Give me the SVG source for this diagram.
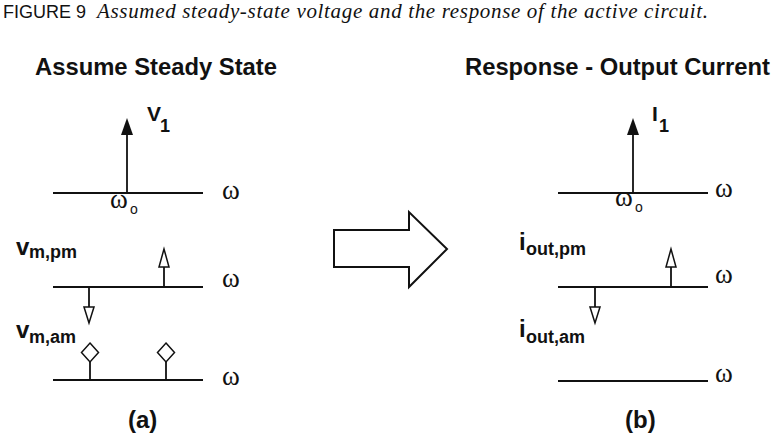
<svg xmlns="http://www.w3.org/2000/svg" width="781" height="448" viewBox="0 0 781 448">
<style>
.ax{stroke:#111;stroke-width:2;fill:none}
.st{stroke:#111;stroke-width:1.8;fill:none}
.open{fill:#fff;stroke:#111;stroke-width:1.5;stroke-linejoin:miter}
.solid{fill:#111;stroke:none}
.ttl{font-family:"Liberation Sans",Arial,sans-serif;font-weight:bold;font-size:24px;fill:#111}
.lbl{font-family:"Liberation Sans",Arial,sans-serif;font-weight:bold;fill:#111}
.om{font-family:"Liberation Serif","Times New Roman",serif;font-size:27px;fill:#111}
.sub{font-family:"Liberation Sans",Arial,sans-serif;font-size:14px;fill:#111}
.cap{font-family:"Liberation Sans",Arial,sans-serif;font-size:18px;fill:#111}
.capi{font-family:"Liberation Serif","Times New Roman",serif;font-style:italic;font-size:21px;fill:#111}
</style>
<rect width="781" height="448" fill="#fff"/>
<g id="caption">
<text class="cap" x="3" y="18" textLength="83">FIGURE 9</text>
<text class="capi" x="97" y="18" textLength="611" lengthAdjust="spacing">Assumed steady-state voltage and the response of the active circuit.</text>
</g>
<g id="panel-a">
<text class="ttl" x="35" y="75" textLength="242" lengthAdjust="spacingAndGlyphs">Assume Steady State</text>
<g id="a-carrier">
<line class="ax" x1="53" y1="193" x2="203" y2="193"/>
<line class="st" x1="127" y1="193" x2="127" y2="133"/>
<polygon class="solid" points="127,118 121,135 133,135"/>
<text class="lbl" x="147" y="121" font-size="21">V</text>
<text class="lbl" x="160" y="132" font-size="18">1</text>
<text class="om" x="222" y="199">ω</text>
<text class="om" x="110" y="208">ω</text>
<text class="sub" x="130" y="214">o</text>
</g>
<g id="a-pm">
<text class="lbl" x="16" y="255" font-size="24">v</text>
<text class="lbl" x="29" y="258" font-size="18">m,pm</text>
<line class="ax" x1="53" y1="287" x2="203" y2="287"/>
<line class="st" x1="164" y1="287" x2="164" y2="267"/>
<polygon class="open" points="164,249 159,267 169,267"/>
<line class="st" x1="89" y1="287" x2="89" y2="307"/>
<polygon class="open" points="89,323 84,307 94,307"/>
<text class="om" x="222" y="287">ω</text>
</g>
<g id="a-am">
<text class="lbl" x="16" y="338" font-size="24">v</text>
<text class="lbl" x="29" y="343" font-size="18">m,am</text>
<line class="ax" x1="53" y1="380" x2="203" y2="380"/>
<line class="st" x1="90" y1="380" x2="90" y2="362"/>
<polygon class="open" points="90,343 98.5,352.5 90,362 81.5,352.5"/>
<line class="st" x1="166" y1="380" x2="166" y2="362"/>
<polygon class="open" points="166,343 174.5,352.5 166,362 157.5,352.5"/>
<text class="om" x="222" y="385">ω</text>
</g>
<text class="lbl" x="128" y="428" font-size="24">(a)</text>
</g>
<g id="connectors">
<polygon id="big-arrow" points="334,230 409,230 409,212 447,249 409,287 409,267 334,267" fill="#fff" stroke="#111" stroke-width="2" stroke-linejoin="miter"/>
</g>
<g id="panel-b">
<text class="ttl" x="465" y="75" textLength="305" lengthAdjust="spacingAndGlyphs">Response - Output Current</text>
<g id="b-carrier">
<line class="ax" x1="558" y1="193" x2="708" y2="193"/>
<line class="st" x1="633" y1="193" x2="633" y2="133"/>
<polygon class="solid" points="633,118 627,135 639,135"/>
<text class="lbl" x="652" y="121" font-size="21">I</text>
<text class="lbl" x="659" y="132" font-size="18">1</text>
<text class="om" x="715" y="197">ω</text>
<text class="om" x="615" y="206">ω</text>
<text class="sub" x="635" y="212">o</text>
</g>
<g id="b-pm">
<text class="lbl" x="519" y="250" font-size="24">i</text>
<text class="lbl" x="526" y="255" font-size="18">out,pm</text>
<line class="ax" x1="558" y1="287" x2="708" y2="287"/>
<line class="st" x1="671" y1="287" x2="671" y2="267"/>
<polygon class="open" points="671,249 666,267 676,267"/>
<line class="st" x1="595" y1="287" x2="595" y2="307"/>
<polygon class="open" points="595,323 590,307 600,307"/>
<text class="om" x="715" y="283">ω</text>
</g>
<g id="b-am">
<text class="lbl" x="519" y="337" font-size="24">i</text>
<text class="lbl" x="526" y="343" font-size="18">out,am</text>
<line class="ax" x1="558" y1="381" x2="708" y2="381"/>
<text class="om" x="715" y="382">ω</text>
</g>
<text class="lbl" x="625" y="428" font-size="24">(b)</text>
</g>
</svg>
